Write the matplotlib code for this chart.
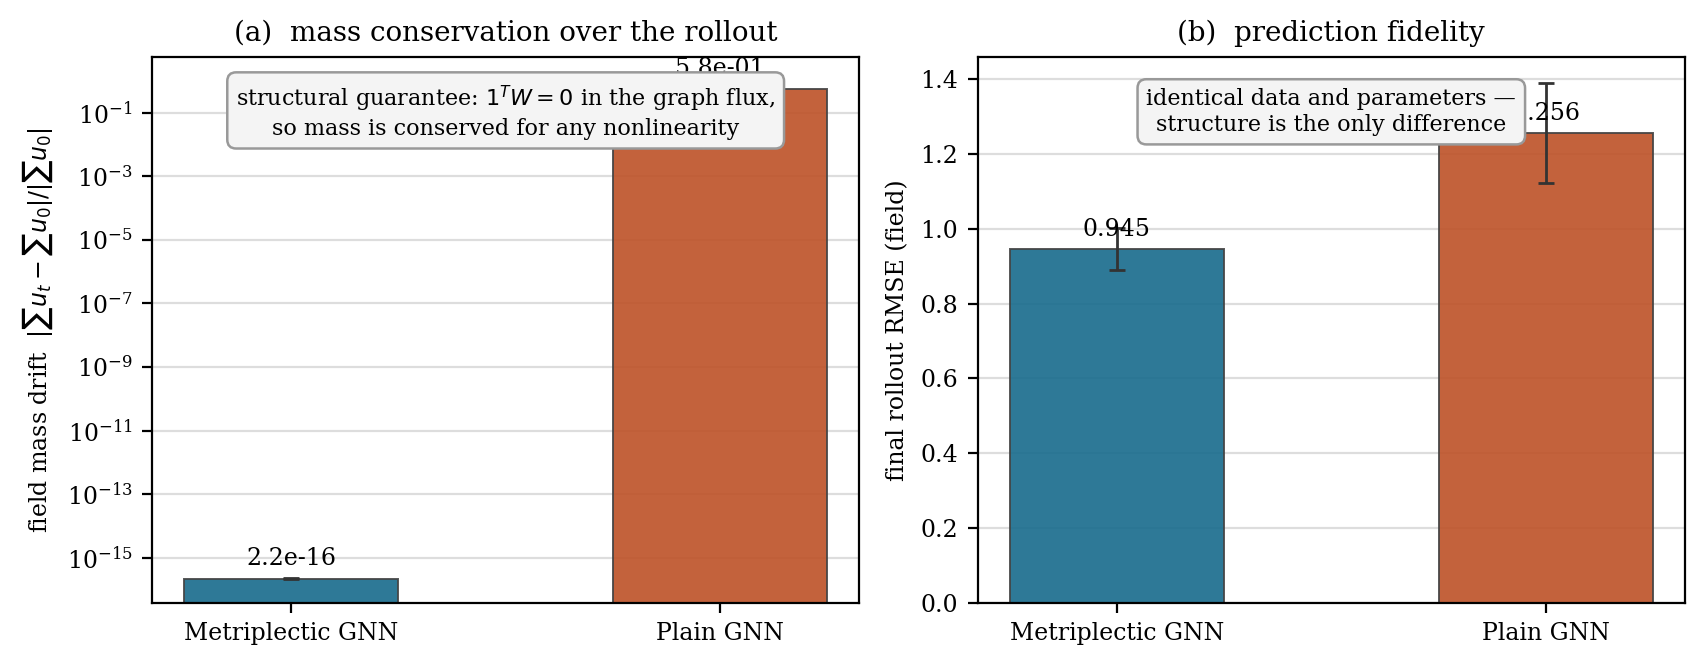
import matplotlib
matplotlib.use("Agg")
import matplotlib.pyplot as plt
from matplotlib.ticker import NullLocator

plt.rcParams["font.family"] = "DejaVu Serif"
plt.rcParams["mathtext.fontset"] = "dejavusans"

models = ["Metriplectic GNN", "Plain GNN"]
mass_drift = [2.2e-16, 5.8e-01]
mass_drift_err = [1.0e-17, 0.05]
rmse = [0.945, 1.256]
rmse_err = [0.056, 0.133]
colors = ["#176B8C", "#BD5127"]

fig, (ax1, ax2) = plt.subplots(1, 2, figsize=(8.525, 3.33), dpi=200)
fig.subplots_adjust(left=0.0891, right=0.9883, top=0.914, bottom=0.095, wspace=0.167)

x = range(len(models))
box_style = dict(boxstyle="round,pad=0.4", facecolor="#f4f4f4",
                 edgecolor="#999999", linewidth=0.9)

# (a) mass drift, log scale
ax1.bar(x, mass_drift, width=0.5, color=colors, alpha=0.9,
        edgecolor="#444444", linewidth=0.7, zorder=2)
ax1.errorbar(x, mass_drift, yerr=mass_drift_err, fmt="none",
             ecolor="#333333", elinewidth=1.0, capsize=3, zorder=3)
ax1.set_yscale("log")
ax1.set_ylim(3.8e-17, 5.6)
ax1.set_yticks([10.0 ** k for k in range(-15, 0, 2)])
ax1.yaxis.set_minor_locator(NullLocator())
for xi, v in zip(x, mass_drift):
    ax1.annotate(f"{v:.1e}", (xi, v), xytext=(0, 3), textcoords="offset points",
                 ha="center", va="bottom", fontsize=8.5, zorder=4)
ax1.set_xticks(list(x))
ax1.set_xticklabels(models, fontsize=8.5)
ax1.tick_params(axis="y", labelsize=8.5)
ax1.set_ylabel(r"field mass drift  $|\sum u_t - \sum u_0|/|\sum u_0|$", fontsize=8.5)
ax1.set_title("(a)  mass conservation over the rollout", fontsize=10)
ax1.grid(axis="y", color="#dddddd", linewidth=0.8, zorder=0)
ax1.set_axisbelow(True)
ax1.text(0.5, 0.90,
         "structural guarantee: $1^TW=0$ in the graph flux,\nso mass is conserved for any nonlinearity",
         transform=ax1.transAxes, ha="center", va="center", fontsize=8, zorder=5,
         bbox=box_style)

# (b) rollout RMSE
ax2.bar(x, rmse, width=0.5, color=colors, alpha=0.9,
        edgecolor="#444444", linewidth=0.7, zorder=2)
ax2.errorbar(x, rmse, yerr=rmse_err, fmt="none",
             ecolor="#333333", elinewidth=1.0, capsize=3, zorder=3)
for xi, v in zip(x, rmse):
    ax2.annotate(f"{v:.3f}", (xi, v), xytext=(0, 3), textcoords="offset points",
                 ha="center", va="bottom", fontsize=8.5, zorder=4)
ax2.set_xticks(list(x))
ax2.set_xticklabels(models, fontsize=8.5)
ax2.tick_params(axis="y", labelsize=8.5)
ax2.set_ylabel("final rollout RMSE (field)", fontsize=8.5)
ax2.set_title("(b)  prediction fidelity", fontsize=10)
ax2.grid(axis="y", color="#dddddd", linewidth=0.8, zorder=0)
ax2.set_axisbelow(True)
ax2.text(0.5, 0.90,
         "identical data and parameters \u2014\nstructure is the only difference",
         transform=ax2.transAxes, ha="center", va="center", fontsize=8, zorder=5,
         bbox=box_style)

fig.savefig("out.png", dpi=200)
